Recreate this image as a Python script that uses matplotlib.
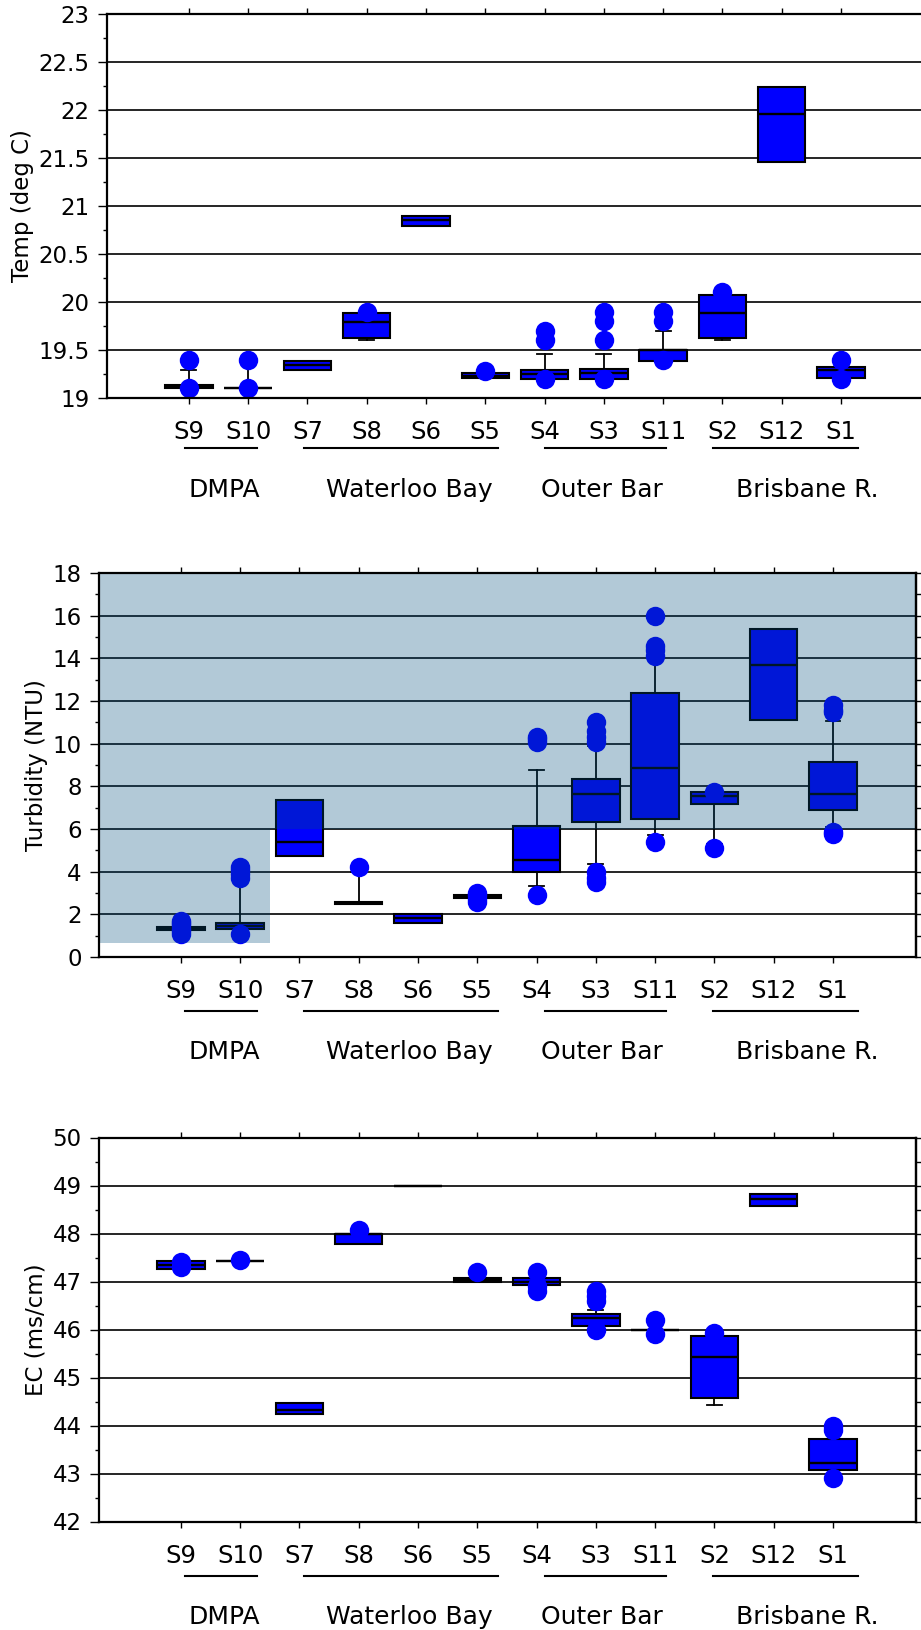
import matplotlib
matplotlib.use("Agg")
import matplotlib.pyplot as plt
from matplotlib.ticker import MultipleLocator, FuncFormatter
from matplotlib.patches import Polygon
import matplotlib.transforms as mtransforms

plt.rcParams['font.family'] = ['DejaVu Sans']

# ---------------- data ----------------
stations = ["S9", "S10", "S7", "S8", "S6", "S5", "S4", "S3", "S11", "S2", "S12", "S1"]

group_names = ["DMPA", "Waterloo Bay", "Outer Bar", "Brisbane R."]
group_start = [0.07, 2.07, 6.14, 8.97]
group_end = [1.28, 5.35, 8.18, 11.42]
group_label_x = [0.74, 3.86, 7.10, 10.56]

# Temperature (deg C)
temp_q1 = [19.10, 19.10, 19.29, 19.62, 20.79, 19.21, 19.20, 19.20, 19.39, 19.62, 21.46, 19.21]
temp_med = [19.12, 19.10, 19.34, 19.79, 20.85, 19.23, 19.25, 19.26, 19.50, 19.89, 21.96, 19.29]
temp_q3 = [19.14, 19.10, 19.39, 19.89, 20.90, 19.26, 19.29, 19.30, 19.50, 20.07, 22.24, 19.32]
temp_lo = [19.10, 19.10, 19.29, 19.60, 20.79, 19.21, 19.20, 19.20, 19.39, 19.60, 21.46, 19.21]
temp_hi = [19.29, 19.35, 19.39, 19.89, 20.90, 19.26, 19.46, 19.46, 19.70, 20.07, 22.24, 19.32]
temp_out = [[19.1, 19.4], [19.1, 19.4], [], [19.9], [], [19.28],
            [19.2, 19.6, 19.7], [19.2, 19.6, 19.8, 19.9], [19.4, 19.8, 19.9],
            [20.1], [], [19.2, 19.4]]

# Turbidity (NTU)
turb_q1 = [1.28, 1.31, 4.73, 2.50, 1.60, 2.75, 3.98, 6.33, 6.47, 7.17, 11.11, 6.89]
turb_med = [1.35, 1.45, 5.39, 2.55, 1.83, 2.83, 4.55, 7.64, 8.86, 7.55, 13.69, 7.64]
turb_q3 = [1.41, 1.59, 7.36, 2.60, 2.02, 2.90, 6.14, 8.34, 12.37, 7.73, 15.37, 9.14]
turb_lo = [1.28, 1.31, 4.73, 2.50, 1.60, 2.75, 3.33, 4.35, 5.72, 5.30, 11.11, 6.10]
turb_hi = [1.41, 3.60, 7.36, 4.00, 2.02, 2.90, 8.77, 9.90, 13.90, 7.73, 15.37, 11.05]
turb_out = [[1.1, 1.2, 1.3, 1.5, 1.6, 1.7], [1.1, 3.7, 3.9, 4.1, 4.2], [], [4.2], [],
            [2.6, 2.7, 2.9, 3.0], [2.9, 10.1, 10.2, 10.3],
            [3.5, 3.7, 4.0, 10.1, 10.3, 10.6, 11.0],
            [5.4, 14.1, 14.4, 14.6, 16.0], [5.1, 7.75], [],
            [5.75, 5.85, 11.5, 11.6, 11.8]]

# Turbidity guideline shading
shade_top = 18.0
shade_low_dmpa = 0.65
shade_low_other = 6.0
shade_split_x = 1.5

# EC (ms/cm)
ec_q1 = [47.27, 47.42, 44.25, 47.79, 49.00, 47.00, 46.92, 46.08, 46.00, 44.58, 48.58, 43.08]
ec_med = [47.35, 47.42, 44.33, 48.00, 49.00, 47.04, 47.00, 46.25, 46.00, 45.42, 48.71, 43.21]
ec_q3 = [47.42, 47.42, 44.46, 48.00, 49.00, 47.07, 47.08, 46.33, 46.00, 45.87, 48.83, 43.71]
ec_lo = [47.27, 47.42, 44.25, 47.79, 49.00, 47.00, 46.92, 46.08, 46.00, 44.42, 48.58, 43.08]
ec_hi = [47.42, 47.42, 44.46, 48.00, 49.00, 47.07, 47.08, 46.40, 46.00, 45.87, 48.83, 43.71]
ec_out = [[47.3, 47.4], [47.45], [], [48.08], [], [47.2], [46.8, 46.9, 47.2],
          [46.0, 46.6, 46.7, 46.8], [45.9, 46.2], [45.92], [], [42.9, 43.9, 44.0]]

# ---------------- figure ----------------
W, H = 921, 1630
fig = plt.figure(figsize=(W / 100, H / 100), dpi=100)

XMIN, XMAX = -1.38, 12.40
positions = list(range(len(stations)))
BLUE = "#0000FF"


def make_stats(q1, med, q3, lo, hi, out):
    return [dict(q1=a, med=b, q3=c, whislo=d, whishi=e, fliers=f)
            for a, b, c, d, e, f in zip(q1, med, q3, lo, hi, out)]


def draw_panel(rect, stats, ylim, major, minor, ylabel, ylabel_x, right_ticks):
    ax = fig.add_axes(rect)
    ax.bxp(stats, positions=positions, widths=0.8, capwidths=0.25,
           patch_artist=True, showfliers=True, manage_ticks=False,
           boxprops=dict(facecolor=BLUE, edgecolor="black", linewidth=1.5),
           medianprops=dict(color="black", linewidth=1.7),
           whiskerprops=dict(color="black", linewidth=1.3),
           capprops=dict(color="black", linewidth=1.3),
           flierprops=dict(marker="o", markerfacecolor=BLUE,
                           markeredgecolor="none", markersize=14, zorder=3))
    ax.set_xlim(XMIN, XMAX)
    ax.set_ylim(*ylim)
    ax.set_xticks(positions)
    ax.set_xticklabels(stations)
    ax.yaxis.set_major_locator(MultipleLocator(major))
    ax.yaxis.set_minor_locator(MultipleLocator(minor))
    ax.yaxis.set_major_formatter(FuncFormatter(lambda v, p: f"{v:g}"))
    ax.tick_params(axis="x", which="both", top=True, bottom=True,
                   direction="out", length=4.5, width=1.0, pad=11.5,
                   labelsize=17.5)
    ax.tick_params(axis="y", which="major", direction="out", length=6.5,
                   width=1.0, pad=6, labelsize=16.5)
    ax.tick_params(axis="y", which="minor", direction="out", length=3,
                   width=1.0)
    ax.yaxis.grid(True, which="major", color="black", linewidth=1.2)
    ax.set_axisbelow(True)
    for s in ax.spines.values():
        s.set_linewidth(1.6)
        s.set_zorder(6)
    ax.set_ylabel(ylabel, fontsize=16.5, va="center")
    ax.yaxis.set_label_coords(ylabel_x, 0.5)
    if right_ticks:
        sec = ax.secondary_yaxis("right")
        sec.yaxis.set_major_locator(MultipleLocator(major))
        sec.yaxis.set_minor_locator(MultipleLocator(minor))
        sec.tick_params(which="both", direction="out", length=3.6,
                        width=1.0, labelright=False)
        sec.spines["right"].set_linewidth(1.6)
    return ax


ax_h = 384 / H
ax_w = 817 / W
ax_top = draw_panel([107 / W, 1 - 398 / H, ax_w, ax_h],
                    make_stats(temp_q1, temp_med, temp_q3, temp_lo, temp_hi, temp_out),
                    (19, 23), 0.5, 0.25, "Temp (deg C)", -0.104, False)
ax_mid = draw_panel([99 / W, 1 - 957 / H, ax_w, ax_h],
                    make_stats(turb_q1, turb_med, turb_q3, turb_lo, turb_hi, turb_out),
                    (0, 18), 2, 1, "Turbidity (NTU)", -0.077, True)
ax_bot = draw_panel([99 / W, 1 - 1521.5 / H, ax_w, ax_h],
                    make_stats(ec_q1, ec_med, ec_q3, ec_lo, ec_hi, ec_out),
                    (42, 50), 1, 0.5, "EC (ms/cm)", -0.077, True)

# guideline shading on turbidity panel (drawn over, translucent)
shade = Polygon([(XMIN, shade_low_dmpa), (shade_split_x, shade_low_dmpa),
                 (shade_split_x, shade_low_other), (XMAX, shade_low_other),
                 (XMAX, shade_top), (XMIN, shade_top)],
                closed=True, facecolor="#004E7D", edgecolor="none",
                alpha=0.3, zorder=4)
ax_mid.add_patch(shade)

# group lines and names (positioned in the lower panels' x frame)
for ax, line_y, name_y in [(ax_top, -0.130, -0.240),
                           (ax_mid, -0.141, -0.248),
                           (ax_bot, -0.141, -0.248)]:
    tr = mtransforms.blended_transform_factory(ax_bot.transData, ax.transAxes)
    for gs, ge, gx, gn in zip(group_start, group_end, group_label_x, group_names):
        ax.plot([gs, ge], [line_y, line_y], color="black", linewidth=1.5,
                transform=tr, clip_on=False)
        ax.text(gx, name_y, gn, transform=tr, ha="center", va="center",
                fontsize=18)

fig.savefig("out.png", dpi=100)
